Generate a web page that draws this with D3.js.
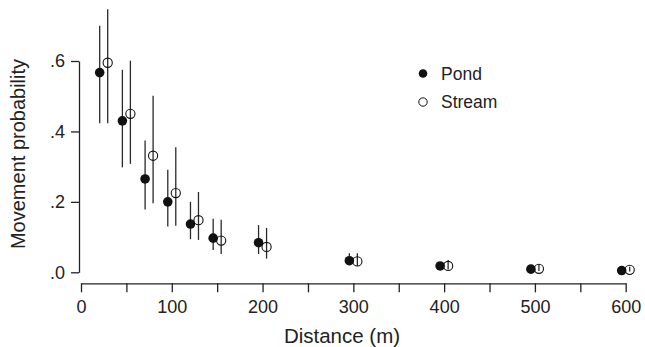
<!DOCTYPE html>
<html>
<head>
<meta charset="utf-8">
<script src="https://cdn.jsdelivr.net/npm/d3@7"></script>
<style>
  html, body { margin: 0; padding: 0; background: #fff; }
  svg { display: block; }
  text { font-family: "Liberation Sans", Arial, Helvetica, sans-serif; fill: #222; }
</style>
</head>
<body>
<svg id="chart" width="645" height="347"></svg>
<script>
// ---- data ----
const distances = [25, 50, 75, 100, 125, 150, 200, 300, 400, 500, 600];
const pondValues = [0.567, 0.430, 0.265, 0.200, 0.137, 0.097, 0.084, 0.033, 0.018, 0.009, 0.005];
const pondLower  = [0.423, 0.298, 0.178, 0.130, 0.094, 0.063, 0.052, 0.020, 0.012, 0.005, 0.002];
const pondUpper  = [0.700, 0.575, 0.374, 0.291, 0.200, 0.152, 0.134, 0.054, 0.028, 0.016, 0.010];
const streamValues = [0.595, 0.450, 0.331, 0.225, 0.148, 0.090, 0.072, 0.031, 0.018, 0.010, 0.007];
const streamLower  = [0.423, 0.308, 0.196, 0.132, 0.092, 0.052, 0.039, 0.018, 0.008, 0.004, 0.002];
const streamUpper  = [0.747, 0.601, 0.501, 0.355, 0.228, 0.149, 0.126, 0.054, 0.035, 0.022, 0.016];
const xTicks = [0, 50, 100, 150, 200, 250, 300, 350, 400, 450, 500, 550, 600];
const xLabels = ["0", "", "100", "", "200", "", "300", "", "400", "", "500", "", "600"];
const yTicks = [0, 0.2, 0.4, 0.6];
const yLabels = [".0", ".2", ".4", ".6"];
const seriesNames = ["Pond", "Stream"];

// ---- layout ----
const svg = d3.select("#chart");
const x = d3.scaleLinear().domain([0, 600]).range([81, 625.7]);
const y = d3.scaleLinear().domain([0, 0.6]).range([272.3, 61]);
const axisColor = "#222";
const dodge = 4;

// y axis
const yAxis = svg.append("g")
  .attr("transform", "translate(79,0)")
  .call(d3.axisLeft(y).tickValues(yTicks).tickFormat((d, i) => yLabels[i]).tickSize(8).tickSizeOuter(0).tickPadding(6));
yAxis.selectAll("path, line").attr("stroke", axisColor).attr("stroke-width", 1.3);
yAxis.selectAll("text").style("font-size", "18px").attr("fill", axisColor).style("font-family", "'Liberation Sans', Arial, sans-serif");

// x axis
const xAxis = svg.append("g")
  .attr("transform", "translate(0,283.3)")
  .call(d3.axisBottom(x).tickValues(xTicks).tickFormat((d, i) => xLabels[i]).tickSize(9).tickSizeOuter(0).tickPadding(8));
xAxis.selectAll("path, line").attr("stroke", axisColor).attr("stroke-width", 1.3);
xAxis.selectAll("text").style("font-size", "18px").attr("fill", axisColor).style("font-family", "'Liberation Sans', Arial, sans-serif");

// titles
svg.append("text").attr("x", 342).attr("y", 343).attr("text-anchor", "middle")
  .style("font-size", "20.5px").text("Distance (m)");
svg.append("text").attr("transform", "translate(25,154) rotate(-90)").attr("text-anchor", "middle")
  .style("font-size", "20px").text("Movement probability");

// series data
const pond = distances.map((d, i) => ({ d, v: pondValues[i], lo: pondLower[i], hi: pondUpper[i] }));
const stream = distances.map((d, i) => ({ d, v: streamValues[i], lo: streamLower[i], hi: streamUpper[i] }));

function drawBars(data, off) {
  svg.append("g").selectAll("line").data(data).join("line")
    .attr("x1", p => x(p.d) + off).attr("x2", p => x(p.d) + off)
    .attr("y1", p => y(p.lo)).attr("y2", p => y(p.hi))
    .attr("stroke", "#2a2a2a").attr("stroke-width", 1.3);
}
drawBars(pond, -dodge);
drawBars(stream, dodge);

svg.append("g").selectAll("circle").data(pond).join("circle")
  .attr("cx", p => x(p.d) - dodge).attr("cy", p => y(p.v)).attr("r", 4.8)
  .attr("fill", "#111");
svg.append("g").selectAll("circle").data(stream).join("circle")
  .attr("cx", p => x(p.d) + dodge).attr("cy", p => y(p.v)).attr("r", 4.6)
  .attr("fill", "none").attr("stroke", "#111").attr("stroke-width", 1.1);

// legend
const legend = svg.append("g");
legend.append("circle").attr("cx", 423).attr("cy", 73.5).attr("r", 4.3).attr("fill", "#111");
legend.append("circle").attr("cx", 423).attr("cy", 102).attr("r", 4.2).attr("fill", "none").attr("stroke", "#111").attr("stroke-width", 1);
legend.append("text").attr("x", 441).attr("y", 79.5).style("font-size", "17.5px").text(seriesNames[0]);
legend.append("text").attr("x", 441).attr("y", 107.5).style("font-size", "17.5px").text(seriesNames[1]);
</script>
</body>
</html>
